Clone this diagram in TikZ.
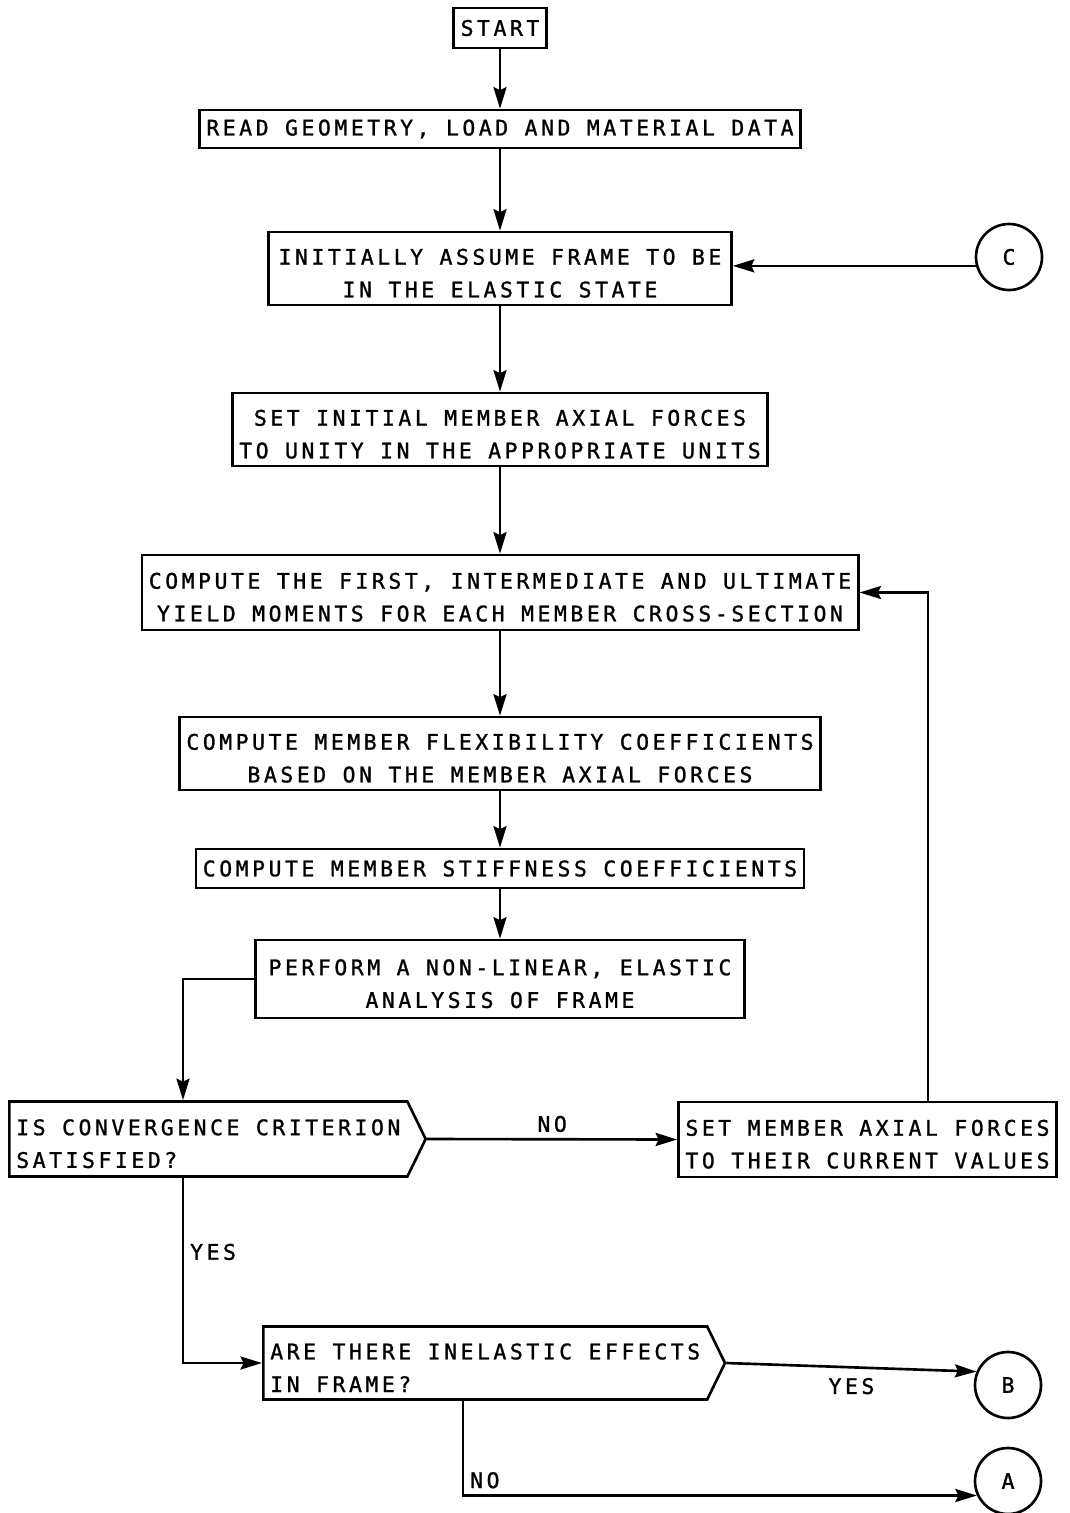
\documentclass[tikz,border=0pt]{standalone}
\usepackage{fontspec}
\newfontfamily\plotfont[LetterSpace=16.5,FakeBold=1.2]{DejaVu Sans Mono}
\usepackage{tikz}
\usetikzlibrary{arrows.meta,positioning,calc,shapes}
\tikzset{%
  process box/.style={%
    draw,
    line width=1.5pt,
    inner xsep=0.14cm,
    inner ysep=0.08cm,
    align=center
  }
}
\tikzset{%
  two lines/.style={%
    text height=1.16cm
  }
}
\tikzset{%
  decision box/.style={%
    draw,
    line width=1.5pt,
    signal,
    signal to=east,
    signal pointer angle=128,
    inner xsep=0.14cm,
    inner ysep=0.08cm,
    minimum height=1.5cm,
    align=left
  }
}
\tikzset{%
  connector circle/.style={%
    draw,
    circle,
    line width=1.5pt,
    minimum size=1.32cm,
    inner sep=0pt
  }
}
\tikzset{%
  flow arrow/.style={%
    line width=1.5pt,
    -{Stealth[length=4.3mm,width=2.6mm,inset=0.6mm]}
  }
}

\begin{document}
\begin{tikzpicture}[font=\plotfont\fontsize{12.2}{18.6}\selectfont]
  \useasboundingbox (0,0) rectangle (21.38,-30.26);
  \node [process box, minimum height=0.8cm] (start) at (10, -0.56) {START};
  \node [process box, minimum height=0.76cm] (read) at (10, -2.58) {READ GEOMETRY, LOAD AND MATERIAL DATA};
  \node [process box, two lines, minimum height=1.46cm, minimum width=9.26cm] (init) at (10, -5.37) {INITIALLY ASSUME FRAME TO BE\\IN THE ELASTIC STATE};
  \node [process box, two lines, minimum height=1.46cm] (units) at (10, -8.59) {SET INITIAL MEMBER AXIAL FORCES\\TO UNITY IN THE APPROPRIATE UNITS};
  \node [process box, two lines, minimum height=1.5cm] (yield) at (10, -11.85) {COMPUTE THE FIRST, INTERMEDIATE AND ULTIMATE\\YIELD MOMENTS FOR EACH MEMBER CROSS-SECTION};
  \node [process box, two lines, minimum height=1.46cm] (flex) at (10, -15.07) {COMPUTE MEMBER FLEXIBILITY COEFFICIENTS\\BASED ON THE MEMBER AXIAL FORCES};
  \node [process box, minimum height=0.78cm] (stiff) at (10, -17.37) {COMPUTE MEMBER STIFFNESS COEFFICIENTS};
  \node [process box, two lines, minimum height=1.56cm, minimum width=9.78cm] (perform) at (10, -19.58) {PERFORM A NON-LINEAR, ELASTIC\\ANALYSIS OF FRAME};
  \node [decision box, two lines, anchor=west] (conv) at (0.16, -22.78) {IS CONVERGENCE CRITERION\\SATISFIED?};
  \node [process box, two lines, minimum height=1.5cm, align=left] (current) at (17.35, -22.79) {SET MEMBER AXIAL FORCES\\TO THEIR CURRENT VALUES};
  \node [decision box, two lines, anchor=west, minimum height=1.46cm] (inel) at (5.24, -27.26) {ARE THERE INELASTIC EFFECTS\\IN FRAME?};
  \node [connector circle] (c) at (20.18, -5.14) {C};
  \node [connector circle] (b) at (20.16, -27.7) {B};
  \node [connector circle] (a) at (20.16, -29.62) {A};
  \coordinate (pc) at (3.66, 0);
  \coordinate (sc) at (18.56, -11.8);
  \coordinate (nc) at (9.26, 0);
  \draw [flow arrow] (start) -- (read);
  \draw [flow arrow] (read) -- (init);
  \draw [flow arrow] (init) -- (units);
  \draw [flow arrow] (units) -- (yield);
  \draw [flow arrow] (yield) -- (flex);
  \draw [flow arrow] (flex) -- (stiff);
  \draw [flow arrow] (stiff) -- (perform);
  \draw [flow arrow] (c.195) -- (c.195 -| init.east);
  \draw [flow arrow] (perform.west) -| (pc |- conv.north);
  \draw [flow arrow] (conv.east) -- node [above] {NO} (current.west);
  \draw [flow arrow] (sc |- current.north) |- (yield.east);
  \draw [flow arrow] (pc |- conv.south) |- node [pos=0.2, right] {YES} (inel.west);
  \draw [flow arrow] (inel.east) -- node [below=2pt] {YES} (b.157);
  \draw [flow arrow] (nc |- inel.south) |- node [pos=0.5, above right] {NO} (a.205);
\end{tikzpicture}
\end{document}
